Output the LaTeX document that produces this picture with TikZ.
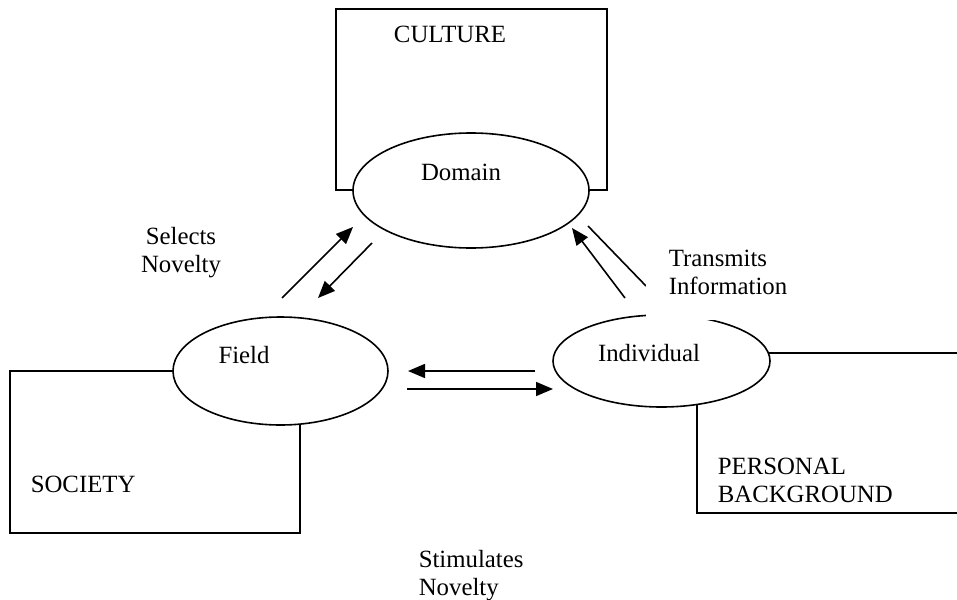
\documentclass[tikz,border=0pt]{standalone}
\usepackage{fontspec}
\setmainfont{Liberation Serif}
\usetikzlibrary{arrows.meta,shapes.geometric}
\begin{document}
\begin{tikzpicture}[x=1pt,y=-1pt,line width=1.6pt,
  lbl/.style={font=\fontsize{24.8}{28.5}\selectfont,inner sep=0pt},
  oval/.style={draw,fill=white,ellipse,inner sep=0pt},
  arr/.style={-{Triangle[length=17pt,width=14pt]}}]
\useasboundingbox (0,0) rectangle (957,599);
% boxes
\begin{scope}
\clip (0,0) rectangle (957,599);
\draw (336,9) rectangle (607,190);
\draw (10,371) rectangle (300,533);
\draw (697,353) rectangle (990,513);
\end{scope}
% ellipses
\node[oval,minimum width=236pt,minimum height=115pt] (domain) at (471,190.5) {};
\node[oval,minimum width=215pt,minimum height=108pt] (field) at (280.5,371) {};
\node[oval,minimum width=217pt,minimum height=92pt] (indiv) at (661.5,361) {};
% connector end points
\coordinate (fd1) at (282,298);
\coordinate (fd2) at (353,227);
\coordinate (df1) at (372,243);
\coordinate (df2) at (318,298);
\coordinate (id1) at (625,298);
\coordinate (id2) at (572,228);
\coordinate (di1) at (588,226);
\coordinate (di2) at (646,286);
\coordinate (if1) at (535,371);
\coordinate (if2) at (408,371);
\coordinate (fi1) at (407,389);
\coordinate (fi2) at (553,389);
\draw[arr] (fd1) -- (fd2);
\draw[arr] (df1) -- (df2);
\draw[arr] (id1) -- (id2);
\draw (di1) -- (di2);
\draw[arr] (if1) -- (if2);
\draw[arr] (fi1) -- (fi2);
% white background of the label
\fill[white] (645.5,242) rectangle (800,320);
% texts
\node[lbl,anchor=base] (tculture) at (450,43) {CULTURE};
\node[lbl,anchor=base] (tdomain) at (461,180) {Domain};
\node[lbl,anchor=base] (tfield) at (244,363) {Field};
\node[lbl,anchor=base] (tindiv) at (649,361) {Individual};
\node[lbl,anchor=base west] (tsociety) at (30,492) {SOCIETY};
\node[lbl,anchor=north west,align=left] (tpersonal) at (717,457) {PERSONAL\\BACKGROUND};
\node[lbl,anchor=north,align=center] (tselects) at (181,226) {Selects\\Novelty};
\node[lbl,anchor=north west,align=left] (ttransmits) at (668,249) {Transmits\\Information};
\node[lbl,anchor=north west,align=left] (tstimulates) at (418,549) {Stimulates\\Novelty};
\end{tikzpicture}
\end{document}
